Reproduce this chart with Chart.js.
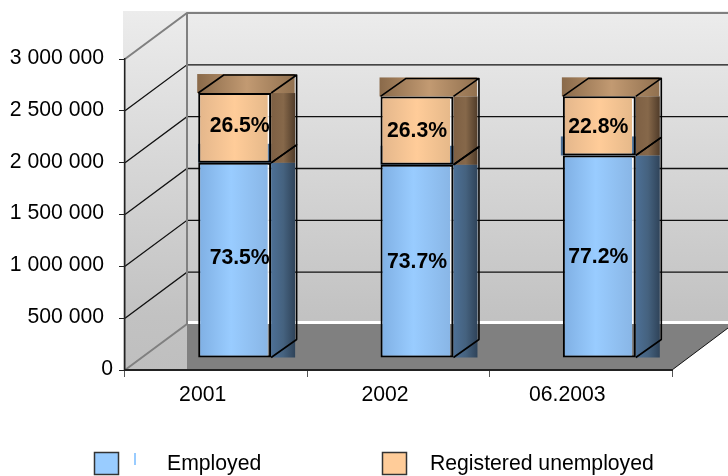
<!DOCTYPE html>
<html>
<head>
<meta charset="utf-8">
<title>Employed and registered unemployed</title>
<script src="https://cdn.jsdelivr.net/npm/chart.js@4/dist/chart.umd.min.js"></script>
<style>
    html, body { margin: 0; padding: 0; background: #fff; }
    canvas { display: block; }
</style>
</head>
<body>
<canvas id="chart" width="728" height="476"></canvas>
<script>
// Data
const categories = ['2001', '2002', '06.2003'];
const employed = [1883000, 1864000, 1954000];
const unemployed = [673000, 659000, 570000];
const employedShare = ['73.5%', '73.7%', '77.2%'];
const unemployedShare = ['26.5%', '26.3%', '22.8%'];
const yTicks = [0, 500000, 1000000, 1500000, 2000000, 2500000, 3000000];

const FONT = '"Liberation Sans", Arial, sans-serif';
const FONT_SIZE = 21.2;

// 3D look: wall offset, bar offset from the axes, bar depth
const wall = { dx: 62, dy: 46 };
const shift = { x: 18.5, y: -12 };
const depth = { dx: 25.5, dy: 18 };
const labelNudge = { x: [5, 0, -1], y: [-2, 1, 1] };

function hGradient(ctx, x0, x1, stops) {
    const g = ctx.createLinearGradient(x0, 0, x1, 0);
    stops.forEach(s => g.addColorStop(s[0], s[1]));
    return g;
}

// Front face gradient stops short of the right edge, the wall shows through there
function frontFill(stops) {
    return (context) => {
        const chart = context.chart;
        if (!chart.chartArea) return stops[1][1];
        const step = chart.scales.x.width / categories.length;
        const mid = chart.scales.x.getPixelForValue(context.dataIndex);
        const w = step * 0.4;
        return hGradient(chart.ctx, mid - w / 2, mid + w / 2, stops);
    };
}

const faces = [
    {
        top: [[0, '#4b6d92'], [0.5, '#5f86b0'], [1, '#4b6d92']],
        side: [[0, '#4d7096'], [0.5, '#45627f'], [1, '#2e4258']]
    },
    {
        top: [[0, '#8a6a4a'], [0.5, '#c29a72'], [1, '#8f6f4e']],
        side: [[0, '#7e6044'], [0.5, '#86684a'], [1, '#4e3a28']]
    }
];

const backdrop = {
    id: 'backdrop',
    beforeDraw(chart) {
        const { ctx, chartArea: a, scales: { y } } = chart;
        const right = chart.width;
        const backX = a.left + wall.dx;
        const floorY = a.bottom - wall.dy;
        ctx.save();

        const wallFill = ctx.createLinearGradient(0, 11, 0, 370);
        wallFill.addColorStop(0, '#ececec');
        wallFill.addColorStop(0.85, '#c2c2c2');
        wallFill.addColorStop(1, '#bfbfbf');
        ctx.fillStyle = wallFill;
        ctx.fillRect(a.left - 2, 11, wall.dx + 2, a.bottom - 11);
        ctx.fillRect(backX, 11, right - backX, floorY - 14);

        // floor
        ctx.fillStyle = '#808080';
        ctx.beginPath();
        ctx.moveTo(backX, floorY);
        ctx.lineTo(right, floorY);
        ctx.lineTo(right, a.bottom - (right - a.right) * 0.75);
        ctx.lineTo(a.right, a.bottom);
        ctx.lineTo(backX, a.bottom);
        ctx.closePath();
        ctx.fill();
        ctx.strokeStyle = '#111';
        ctx.lineWidth = 1;
        ctx.beginPath();
        ctx.moveTo(a.right, a.bottom);
        ctx.lineTo(right, a.bottom - (right - a.right) * 0.75);
        ctx.stroke();

        // gridlines run across the side wall and along the back wall
        yTicks.slice(1, -1).forEach(v => {
            const py = y.getPixelForValue(v);
            ctx.strokeStyle = '#111';
            ctx.lineWidth = 1.3;
            ctx.beginPath();
            ctx.moveTo(a.left, py);
            ctx.lineTo(backX, py - wall.dy);
            ctx.lineTo(right, py - wall.dy);
            ctx.stroke();
        });

        // wall edges
        ctx.strokeStyle = '#808080';
        ctx.lineWidth = 2;
        ctx.beginPath();
        ctx.moveTo(a.left, a.top);
        ctx.lineTo(backX, a.top - wall.dy);
        ctx.lineTo(right, a.top - wall.dy);
        ctx.moveTo(backX, a.top - wall.dy);
        ctx.lineTo(backX, floorY);
        ctx.lineTo(a.left, a.bottom);
        ctx.stroke();
        ctx.restore();
    }
};

const bars3d = {
    id: 'bars3d',
    beforeDatasetsDraw(chart) {
        const ctx = chart.ctx;
        const floorY = chart.chartArea.bottom - wall.dy - 3;
        ctx.save();
        ctx.translate(shift.x, shift.y);
        const metas = [chart.getDatasetMeta(0), chart.getDatasetMeta(1)];

        // light strip behind the open right edge of the front face
        ctx.fillStyle = 'rgba(255,255,255,0.85)';
        metas[1].data.forEach(el => {
            const r = el.x + el.width / 2;
            ctx.fillRect(r - 5, el.y, 5, floorY - shift.y - el.y);
        });

        // top faces first, the side faces then cover what sticks out
        metas.forEach((meta, d) => meta.data.forEach((el, i) => {
            const l = el.x - el.width / 2;
            // only the last employed block pokes out on the left
            const pad = d === 1 ? 1 : (i === 2 ? 2 : 0);
            ctx.fillStyle = hGradient(ctx, l - 1, l + el.width + depth.dx, faces[d].top);
            ctx.fillRect(l - pad, el.y - depth.dy - 1, el.width + depth.dx - 2 + pad, depth.dy + 1);
        }));
        metas.forEach((meta, d) => meta.data.forEach(el => {
            const r = el.x + el.width / 2;
            ctx.fillStyle = hGradient(ctx, r, r + depth.dx - 1, faces[d].side);
            ctx.fillRect(r, el.y, depth.dx - 1.5, el.base - el.y);
        }));
    },
    afterDatasetsDraw(chart) {
        const ctx = chart.ctx;
        ctx.strokeStyle = '#000';
        ctx.lineWidth = 1.6;
        ctx.lineJoin = 'round';
        [0, 1].forEach(d => chart.getDatasetMeta(d).data.forEach(el => {
            const l = el.x - el.width / 2;
            const r = el.x + el.width / 2;
            ctx.beginPath();
            if (d === 1) {
                // the employed top face is hidden by the block above it
                ctx.moveTo(l, el.y);
                ctx.lineTo(l + depth.dx, el.y - depth.dy);
                ctx.lineTo(r + depth.dx, el.y - depth.dy);
                ctx.lineTo(r, el.y);
                ctx.moveTo(r + depth.dx, el.y - depth.dy);
                ctx.lineTo(r + depth.dx, el.base - depth.dy);
                ctx.lineTo(r, el.base);
            } else {
                ctx.moveTo(r, el.y);
                ctx.lineTo(r + depth.dx, el.y - depth.dy);
                ctx.lineTo(r + depth.dx, el.base - depth.dy);
                ctx.lineTo(r, el.base);
            }
            ctx.stroke();
        }));
        ctx.restore();

        // percent labels
        ctx.save();
        ctx.fillStyle = '#000';
        ctx.font = 'bold ' + FONT_SIZE + 'px ' + FONT;
        ctx.textAlign = 'center';
        ctx.textBaseline = 'middle';
        [employedShare, unemployedShare].forEach((labels, d) => {
            chart.getDatasetMeta(d).data.forEach((el, i) => {
                const x = el.x + shift.x + labelNudge.x[i];
                const y = (el.y + el.base) / 2 + shift.y + labelNudge.y[i];
                ctx.fillText(labels[i], x, y);
            });
        });
        ctx.restore();
    }
};

const legendBlock = {
    id: 'legendBlock',
    afterDraw(chart) {
        const ctx = chart.ctx;
        ctx.save();
        const entries = [
            { x: 94.5, textX: 167, dataset: chart.data.datasets[0], fill: '#99ccff' },
            { x: 382.5, textX: 430, dataset: chart.data.datasets[1], fill: '#ffcc99' }
        ];
        ctx.font = FONT_SIZE + 'px ' + FONT;
        ctx.textBaseline = 'middle';
        entries.forEach(e => {
            ctx.fillStyle = e.fill;
            ctx.strokeStyle = '#333';
            ctx.lineWidth = 1.5;
            ctx.fillRect(e.x, 452.5, 24, 22);
            ctx.strokeRect(e.x, 452.5, 24, 22);
            ctx.fillStyle = '#000';
            ctx.fillText(e.dataset.label, e.textX, 464);
        });
        ctx.fillStyle = '#99ccff';
        ctx.fillRect(134, 453, 2, 12);

        // the zero label sits closer to the axis than the others
        ctx.fillStyle = '#000';
        ctx.textAlign = 'right';
        ctx.fillText('0', 113, chart.scales.y.getPixelForValue(0) - 1);
        ctx.restore();
    }
};

new Chart(document.getElementById('chart'), {
    type: 'bar',
    data: {
        labels: categories,
        datasets: [
            {
                label: 'Employed',
                data: employed,
                backgroundColor: frontFill([[0, '#7fafe3'], [0.45, '#99ccff'], [0.95, '#89b6e6'], [0.951, 'rgba(255,255,255,0)'], [1, 'rgba(255,255,255,0)']])
            },
            {
                label: 'Registered unemployed',
                data: unemployed,
                backgroundColor: frontFill([[0, '#e3b68b'], [0.5, '#ffcc99'], [0.95, '#e6b98a'], [0.951, 'rgba(255,255,255,0)'], [1, 'rgba(255,255,255,0)']])
            }
        ]
    },
    options: {
        responsive: false,
        animation: false,
        categoryPercentage: 0.4,
        barPercentage: 1,
        borderColor: '#000',
        borderWidth: 2,
        borderSkipped: false,
        layout: { padding: { top: 59, right: 56 } },
        plugins: {
            legend: { display: false },
            tooltip: { enabled: false }
        },
        scales: {
            x: {
                stacked: true,
                afterFit: (scale) => { scale.height = 106; },
                border: { color: '#222', width: 2 },
                grid: { drawOnChartArea: false, color: '#555', tickLength: 7 },
                ticks: {
                    color: '#000',
                    padding: 5,
                    labelOffset: -13.5,
                    maxRotation: 0,
                    font: { family: FONT, size: FONT_SIZE }
                }
            },
            y: {
                stacked: true,
                min: 0,
                max: 3000000,
                afterFit: (scale) => { scale.width = 125; },
                border: { color: '#222', width: 1.5 },
                grid: { drawOnChartArea: false, color: '#222', tickLength: 6 },
                ticks: {
                    color: '#000',
                    stepSize: 500000,
                    padding: 15,
                    labelOffset: -1,
                    font: { family: FONT, size: FONT_SIZE },
                    callback: (v) => v === 0 ? '' : String(v).replace(/\B(?=(\d{3})+$)/g, ' ')
                }
            }
        }
    },
    plugins: [backdrop, bars3d, legendBlock]
});
</script>
</body>
</html>
